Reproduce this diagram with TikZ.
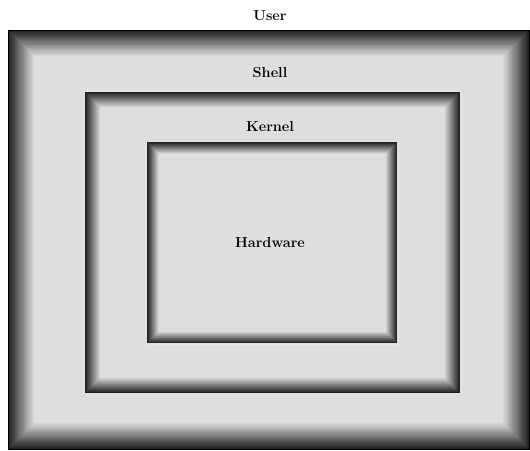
\documentclass[tikz,border=0pt]{standalone}
\usetikzlibrary{positioning}

\definecolor{panel}{gray}{0.87}
% bevelled frame: x1, y1, x2, y2, bevel width
\newcommand{\bevelbox}[5]{%
  \foreach \i in {0,...,23}{
    \pgfmathsetmacro{\shade}{88-75*\i/23}
    \fill[black!\shade] ({#1+\i*#5/24},{#2+\i*#5/24}) rectangle ({#3-\i*#5/24},{#4-\i*#5/24});
  }
  \fill[panel] ({#1+#5},{#2+#5}) rectangle ({#3-#5},{#4-#5});
}

\begin{document}
\begin{tikzpicture}[x=1pt,y=-1pt,
  layer/.style={font=\fontsize{14.5}{16}\selectfont\bfseries,inner sep=1pt}]
\useasboundingbox[fill=white] (0,0) rectangle (530,450);

% User frame
\bevelbox{8}{30}{529}{449}{27}
\draw[black,line width=0.8pt] (8,30) rectangle (529,449);

% Shell frame
\draw[white!90!black,line width=0.6pt] (84,91) rectangle (461,394);
\bevelbox{85}{92}{460}{393}{16}

% Kernel frame
\draw[white!90!black,line width=0.6pt] (146,141) rectangle (398,344);
\bevelbox{147}{142}{397}{343}{12}

% labels
\node[layer] (user) at (270,16) {User};
\node[layer] (shell) at (270,73) {Shell};
\node[layer] (kernel) at (270,127) {Kernel};
\node[layer] (hardware) at (270,243) {Hardware};

\end{tikzpicture}
\end{document}
